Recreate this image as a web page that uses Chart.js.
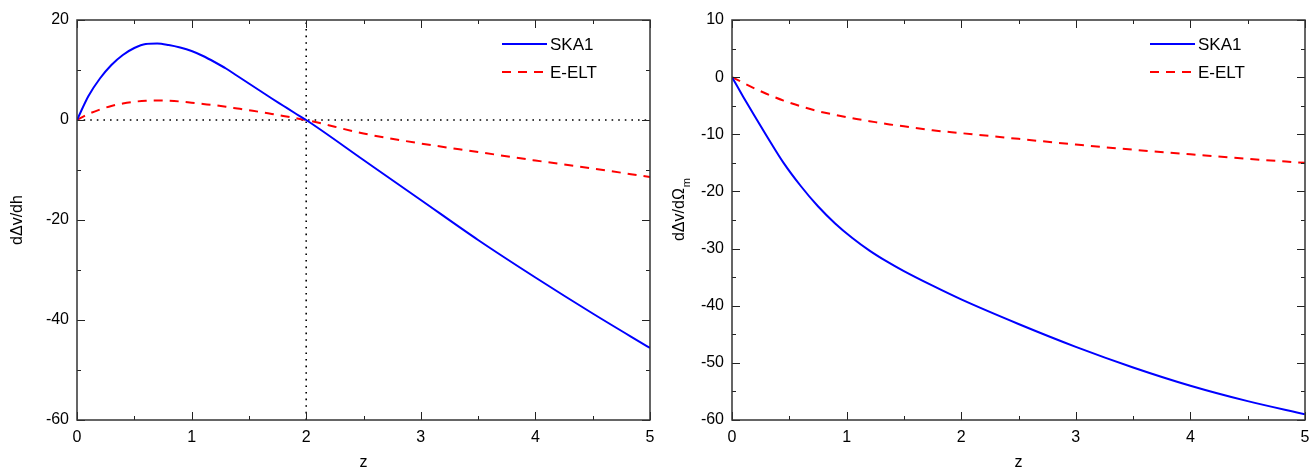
<!DOCTYPE html>
<html>
<head>
<meta charset="utf-8">
<script src="https://cdn.jsdelivr.net/npm/chart.js@4.4.0/dist/chart.umd.min.js"></script>
<style>
  body { margin: 0; background: #fff; width: 1309px; height: 472px; overflow: hidden; }
  .box { position: absolute; top: 0; height: 472px; }
  #leftBox { left: 0; width: 655px; }
  #rightBox { left: 655px; width: 654px; }
</style>
</head>
<body>
<div class="box" id="leftBox"><canvas id="leftChart"></canvas></div>
<div class="box" id="rightBox"><canvas id="rightChart"></canvas></div>
<script>
// left panel: dΔv/dh
const zLeft = [0, 0.1, 0.2, 0.3, 0.4, 0.5, 0.6, 0.7, 0.8, 0.9, 1, 1.1, 1.2, 1.3, 1.4, 1.5, 1.6, 1.7, 1.8, 1.9, 2, 2.5, 3, 3.5, 4, 4.5, 5];
const skaLeft = [0, 4.8, 8.3, 11.0, 13.0, 14.4, 15.2, 15.3, 15.0, 14.5, 13.8, 12.8, 11.6, 10.3, 8.8, 7.3, 5.8, 4.3, 2.85, 1.4, 0, -8, -16, -24, -31.5, -38.7, -45.6];
const eeltLeft = [0, 1.2, 2.1, 2.8, 3.3, 3.65, 3.85, 3.9, 3.85, 3.7, 3.45, 3.2, 2.95, 2.65, 2.3, 1.95, 1.6, 1.2, 0.8, 0.4, 0, -2.7, -4.7, -6.4, -8.1, -9.7, -11.4];

// right panel: dΔv/dΩm
const zRight = [0, 0.1, 0.2, 0.3, 0.45, 0.6, 0.75, 0.9, 1.05, 1.2, 1.35, 1.5, 1.75, 2, 2.5, 3, 3.5, 4, 4.5, 5];
const skaRight = [0, -3.5, -6.9, -10.2, -15.0, -19.05, -22.6, -25.6, -28.15, -30.35, -32.25, -33.95, -36.5, -38.9, -43.2, -47.2, -50.8, -54.0, -56.7, -59.0];
const eeltRight = [0, -1.0, -2.0, -2.9, -4.1, -5.1, -5.95, -6.6, -7.2, -7.7, -8.2, -8.6, -9.3, -9.8, -10.8, -11.8, -12.7, -13.5, -14.3, -15];

const seriesNames = ['SKA1', 'E-ELT'];
const xTickMax = 5;

const FONT = "'Liberation Sans', Arial, sans-serif";

function pts(xs, ys) {
    return xs.map((x, i) => ({ x: x, y: ys[i] }));
}

// inward ticks on all four sides + frame
const frameTicks = {
    id: 'frameTicks',
    afterDraw(chart, args, opts) {
        const { ctx, chartArea: a, scales } = chart;
        const xs = scales.x, ys = scales.y;
        ctx.save();
        ctx.strokeStyle = '#222';
        ctx.lineWidth = 1;
        const drawX = (v, len) => {
            const px = Math.round(xs.getPixelForValue(v)) + 0.5;
            ctx.beginPath();
            ctx.moveTo(px, a.bottom); ctx.lineTo(px, a.bottom - len);
            ctx.moveTo(px, a.top); ctx.lineTo(px, a.top + len);
            ctx.stroke();
        };
        const drawY = (v, len) => {
            const py = Math.round(ys.getPixelForValue(v)) + 0.5;
            ctx.beginPath();
            ctx.moveTo(a.left, py); ctx.lineTo(a.left + len, py);
            ctx.moveTo(a.right, py); ctx.lineTo(a.right - len, py);
            ctx.stroke();
        };
        for (let v = xs.min; v <= xs.max + 1e-9; v += opts.xMinor) drawX(v, 4);
        for (let v = xs.min; v <= xs.max + 1e-9; v += opts.xMajor) drawX(v, 8);
        for (let v = ys.min; v <= ys.max + 1e-9; v += opts.yMinor) drawY(v, 4);
        for (let v = ys.min; v <= ys.max + 1e-9; v += opts.yMajor) drawY(v, 8);
        ctx.strokeStyle = '#333';
        ctx.lineWidth = 1.5;
        ctx.strokeRect(a.left, a.top, a.right - a.left, a.bottom - a.top);
        ctx.restore();
    }
};

// legend box inside plot, top right
const innerLegend = {
    id: 'innerLegend',
    afterDraw(chart, args, opts) {
        const { ctx, chartArea: a } = chart;
        ctx.save();
        ctx.font = '17px ' + FONT;
        ctx.textBaseline = 'middle';
        ctx.fillStyle = '#000';
        chart.data.datasets.forEach((ds, i) => {
            if (!ds.label) return;
            const y = a.top + 24 + i * 28;
            const x0 = a.right - opts.offset;
            ctx.strokeStyle = ds.borderColor;
            ctx.lineWidth = 2;
            ctx.setLineDash(ds.borderDash || []);
            ctx.beginPath();
            ctx.moveTo(x0, y); ctx.lineTo(x0 + 45, y);
            ctx.stroke();
            ctx.setLineDash([]);
            ctx.fillText(ds.label, x0 + 48, y + 1);
        });
        ctx.restore();
    }
};

// rotated y title with optional subscript
const yTitle = {
    id: 'yTitle',
    afterDraw(chart, args, opts) {
        const { ctx, chartArea: a } = chart;
        ctx.save();
        const cy = (a.top + a.bottom) / 2 + opts.dy;
        ctx.translate(opts.x, cy);
        ctx.rotate(-Math.PI / 2);
        ctx.fillStyle = '#000';
        ctx.textBaseline = 'middle';
        ctx.font = '16px ' + FONT;
        const w1 = ctx.measureText(opts.text).width;
        ctx.font = '11px ' + FONT;
        const w2 = opts.sub ? ctx.measureText(opts.sub).width : 0;
        const start = -(w1 + w2) / 2;
        ctx.font = '16px ' + FONT;
        ctx.fillText(opts.text, start, 0);
        if (opts.sub) {
            ctx.font = '11px ' + FONT;
            ctx.fillText(opts.sub, start + w1 + 1, 7);
        }
        ctx.restore();
    }
};

function makeChart(id, z, ska, eelt, yMin, yMax, yStep, yMinor, extra, title, legendOffset, padRight) {
    const datasets = [
        {
            label: seriesNames[0],
            data: pts(z, ska),
            borderColor: '#0000ff',
            borderWidth: 2,
            pointRadius: 0,
            cubicInterpolationMode: 'monotone'
        },
        {
            label: seriesNames[1],
            data: pts(z, eelt),
            borderColor: '#ff0000',
            borderWidth: 2,
            borderDash: [9, 7],
            pointRadius: 0,
            cubicInterpolationMode: 'monotone'
        }
    ].concat(extra);

    return new Chart(document.getElementById(id), {
        type: 'line',
        data: { datasets: datasets },
        options: {
            responsive: true,
            maintainAspectRatio: false,
            animation: false,
            layout: { padding: { top: 20, right: padRight, left: 0, bottom: 0 } },
            plugins: {
                legend: { display: false },
                tooltip: { enabled: false },
                frameTicks: { xMajor: 1, xMinor: 0.5, yMajor: yStep, yMinor: yMinor },
                innerLegend: { offset: legendOffset },
                yTitle: title
            },
            scales: {
                x: {
                    type: 'linear',
                    min: 0,
                    max: xTickMax,
                    grid: { display: false, drawTicks: false },
                    border: { display: false },
                    ticks: { stepSize: 1, padding: 8, color: '#000', font: { family: FONT, size: 16 } },
                    title: { display: true, text: 'z', color: '#000', font: { family: FONT, size: 16 }, padding: { top: 0, bottom: 0 } },
                    afterFit: (s) => { s.height = 52; s.paddingLeft = 0; s.paddingRight = 0; }
                },
                y: {
                    min: yMin,
                    max: yMax,
                    grid: { display: false, drawTicks: false },
                    border: { display: false },
                    ticks: { stepSize: yStep, padding: 8, color: '#000', font: { family: FONT, size: 16 } },
                    afterFit: (s) => { s.width = 77; s.paddingTop = 0; s.paddingBottom = 0; }
                }
            }
        },
        plugins: [frameTicks, innerLegend, yTitle]
    });
}

const refLines = [
    {
        label: '',
        data: [{ x: 0, y: 0 }, { x: 5, y: 0 }],
        borderColor: '#000',
        borderWidth: 1.6,
        borderDash: [1.6, 5],
        pointRadius: 0
    },
    {
        label: '',
        data: [{ x: 2, y: -60 }, { x: 2, y: 20 }],
        borderColor: '#000',
        borderWidth: 1.6,
        borderDash: [1.6, 5],
        pointRadius: 0
    }
];

makeChart('leftChart', zLeft, skaLeft, eeltLeft, -60, 20, 20, 10, refLines,
    { x: 18, dy: 0, text: 'dΔv/dh', sub: '' }, 148, 5);
makeChart('rightChart', zRight, skaRight, eeltRight, -60, 10, 10, 5, [],
    { x: 25, dy: -10, text: 'dΔv/dΩ', sub: 'm' }, 155, 4);
</script>
</body>
</html>
